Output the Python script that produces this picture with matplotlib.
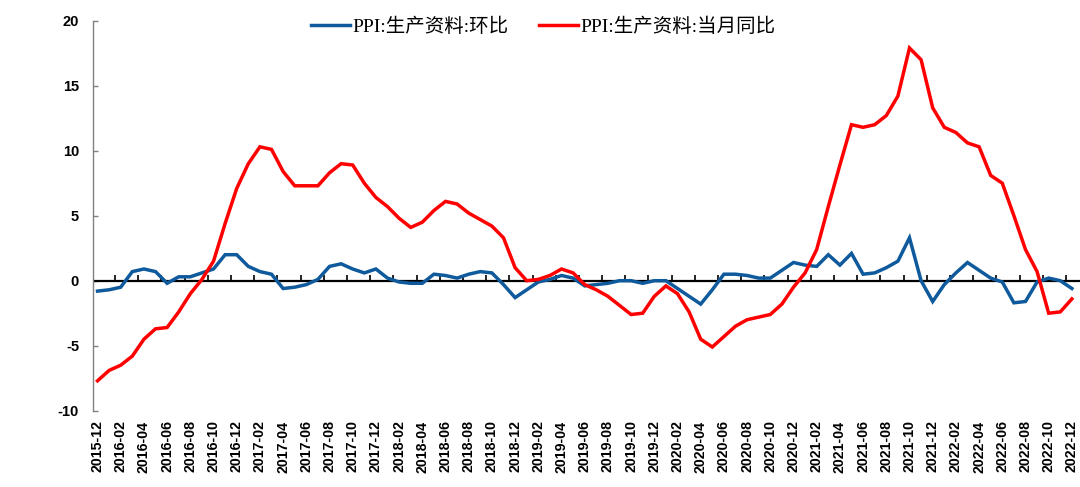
import matplotlib
matplotlib.use('Agg')
import matplotlib.pyplot as plt
import pandas as pd

months = [p.strftime('%Y-%m') for p in pd.period_range('2015-12', '2022-12', freq='M')]

mom = [-0.8, -0.7, -0.5, 0.7, 0.9, 0.7, -0.2, 0.3, 0.3, 0.6, 0.9, 2.0,
       2.0, 1.1, 0.7, 0.5, -0.6, -0.5, -0.3, 0.1, 1.1, 1.3, 0.9, 0.6,
       0.9, 0.2, -0.1, -0.2, -0.2, 0.5, 0.4, 0.2, 0.5, 0.7, 0.6, -0.3,
       -1.3, -0.7, -0.1, 0.1, 0.4, 0.2, -0.4, -0.3, -0.2, 0.0, 0.0, -0.2,
       0.0, 0.0, -0.6, -1.2, -1.8, -0.7, 0.5, 0.5, 0.4, 0.2, 0.2, 0.8,
       1.4, 1.2, 1.1, 2.0, 1.2, 2.1, 0.5, 0.6, 1.0, 1.5, 3.3, 0.0,
       -1.6, -0.3, 0.6, 1.4, 0.8, 0.2, -0.1, -1.7, -1.6, -0.1, 0.2, 0.0,
       -0.6]

yoy = [-7.7, -6.9, -6.5, -5.8, -4.5, -3.7, -3.6, -2.4, -1.0, 0.1, 1.5, 4.4,
       7.1, 9.0, 10.3, 10.1, 8.4, 7.3, 7.3, 7.3, 8.3, 9.0, 8.9, 7.5,
       6.4, 5.7, 4.8, 4.1, 4.5, 5.4, 6.1, 5.9, 5.2, 4.7, 4.2, 3.3,
       1.0, 0.0, 0.1, 0.4, 0.9, 0.6, -0.3, -0.7, -1.2, -1.9, -2.6, -2.5,
       -1.2, -0.4, -1.0, -2.4, -4.5, -5.1, -4.3, -3.5, -3.0, -2.8, -2.6, -1.8,
       -0.5, 0.6, 2.4, 5.7, 8.9, 12.0, 11.8, 12.0, 12.7, 14.2, 17.9, 17.0,
       13.3, 11.8, 11.4, 10.6, 10.3, 8.1, 7.5, 5.0, 2.4, 0.7, -2.5, -2.4,
       -1.4]

label_mom = 'PPI:生产资料:环比'
label_yoy = 'PPI:生产资料:当月同比'

yticks = [-10, -5, 0, 5, 10, 15, 20]

W, H = 1080, 487
fig = plt.figure(figsize=(W / 100, H / 100), dpi=100)
ax = fig.add_axes([93 / W, 1 - 410.7 / H, (W - 93) / W, 390 / H])

x = list(range(len(months)))
ax.plot(x, mom, color='#0F5A9C', lw=2.5, label=label_mom, zorder=3, solid_joinstyle='miter')
ax.plot(x, yoy, color='#FF0000', lw=2.5, label=label_yoy, zorder=3, solid_joinstyle='miter')

ax.axhline(0, color='black', lw=1.6, zorder=2)

ax.set_xlim(-0.39, 84.7)
ax.set_ylim(-10, 20)

for s in ['top', 'right', 'bottom']:
    ax.spines[s].set_visible(False)
ax.spines['left'].set_color('#808080')
ax.spines['left'].set_linewidth(1.0)

ax.set_yticks(yticks)
ax.set_yticklabels([str(v) for v in yticks], fontfamily='Liberation Sans',
                   fontweight='bold', fontsize=10.5)
ax.tick_params(axis='y', direction='in', length=3.5, width=1, color='#808080', pad=10)

ax.set_xticks(x[::2])
ax.set_xticklabels(months[::2], rotation=90, fontfamily='Liberation Sans',
                   fontweight='bold', fontsize=10.2)
ax.tick_params(axis='x', length=0, pad=7)

# tick marks on the zero line, between categories
sec = ax.secondary_xaxis(1 / 3)
sec.set_xticks([i + 0.5 for i in x[1:-1:2]])
sec.tick_params(axis='x', direction='in', length=4, width=1.2, color='black',
                labelbottom=False, labeltop=False)
for s in sec.spines.values():
    s.set_visible(False)

leg = fig.legend(loc='center', bbox_to_anchor=(543.5 / W, 1 - 27 / H), ncol=2,
                 frameon=False, handlelength=2.0, handletextpad=0.15,
                 columnspacing=1.55,
                 prop={'family': ['Liberation Serif', 'Noto Sans CJK SC'], 'size': 14})

fig.savefig('out.png', dpi=100)
